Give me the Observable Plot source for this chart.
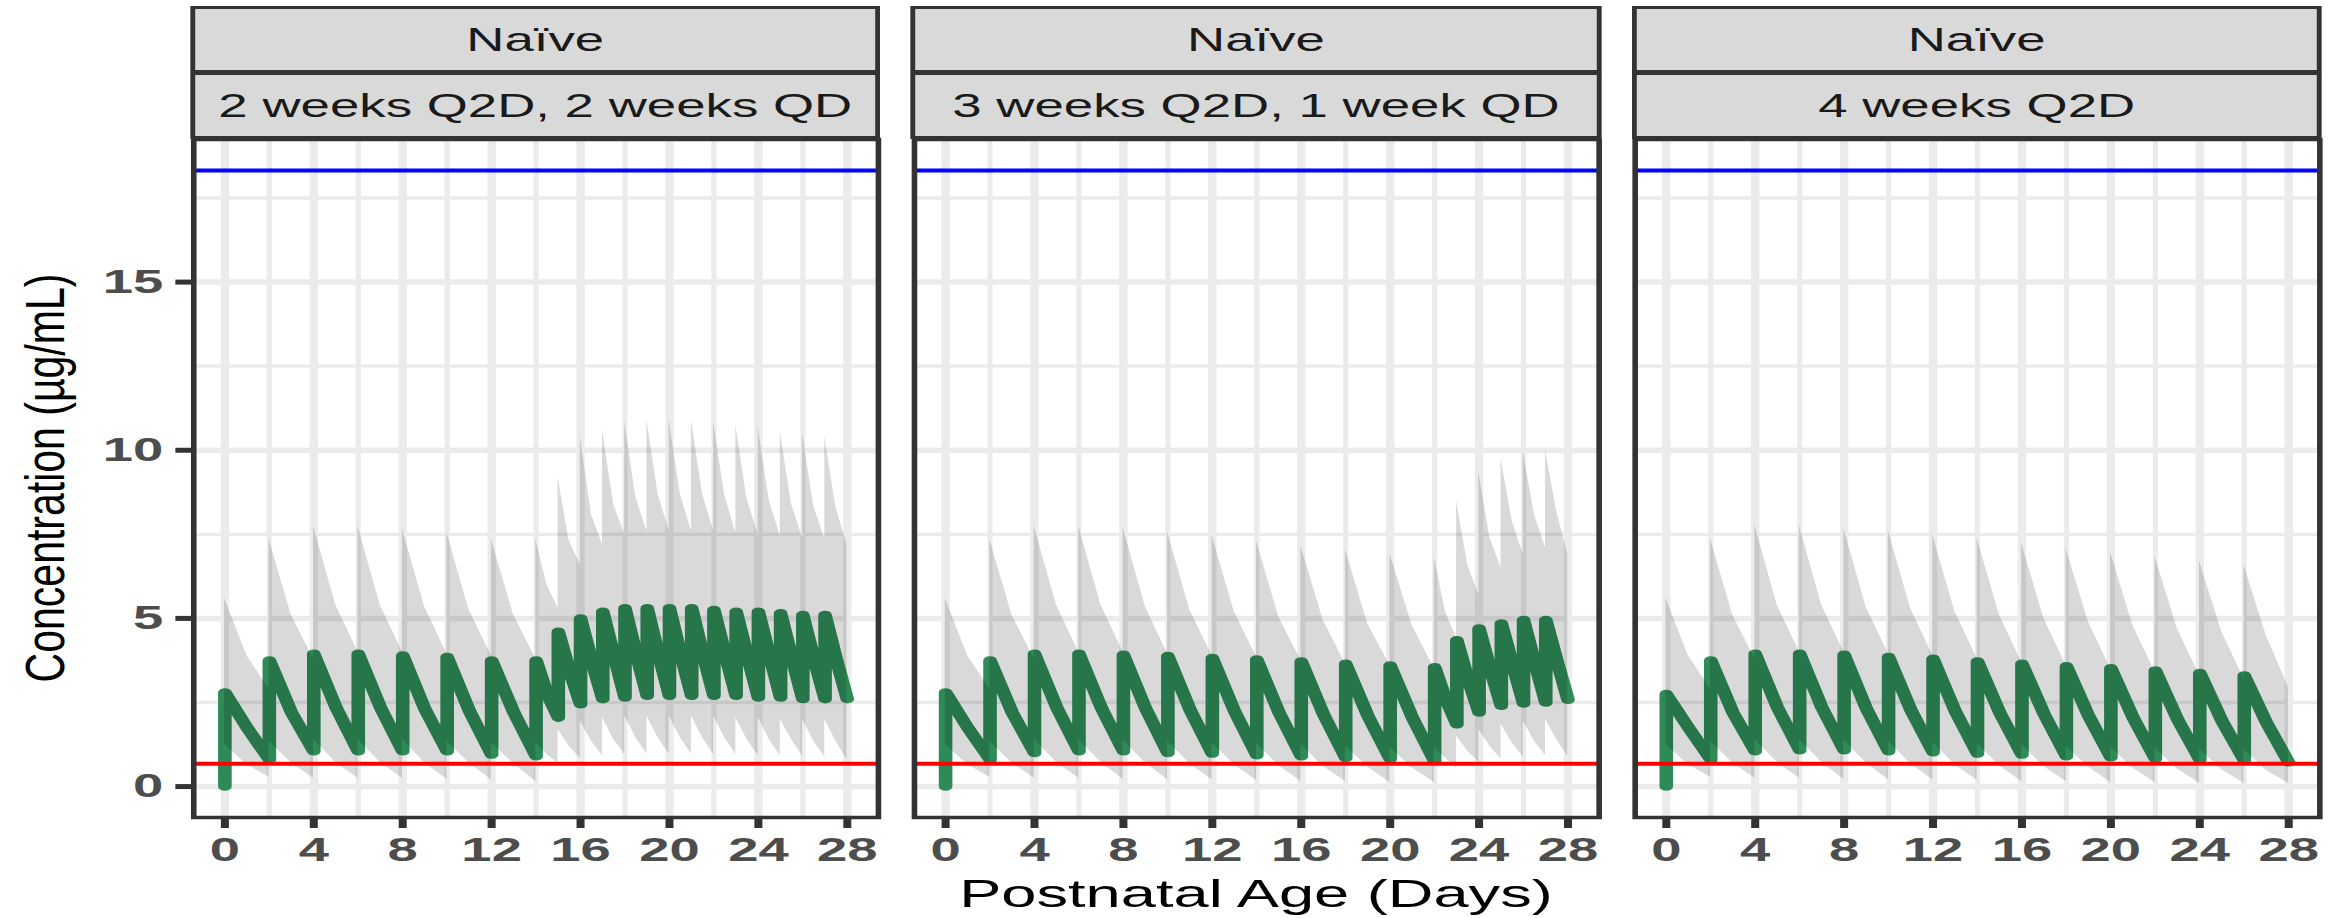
<!DOCTYPE html>
<html>
<head>
<meta charset="utf-8">
<script src="https://cdn.jsdelivr.net/npm/d3@7"></script>
<script src="https://cdn.jsdelivr.net/npm/@observablehq/plot@0.6"></script>
<style>
html, body { margin: 0; padding: 0; background: #fff; }
#root { position: relative; width: 2344px; height: 918px; overflow: hidden; font-family: "Liberation Sans", Arial, sans-serif; }
#stretch { position: absolute; left: 0; top: 0; width: 1465px; height: 918px; transform: scaleX(1.6); transform-origin: 0 0; }
#stretch svg { position: absolute; left: 0; top: 0; }
.strip { position: absolute; box-sizing: border-box; background: #d9d9d9; border: 3px solid #333; border-left-width: 3.5px; border-right-width: 3.5px;
  display: flex; align-items: center; justify-content: center; font-size: 33px; color: #1a1a1a; white-space: nowrap; }
#xtitle { position: absolute; top: 874px; font-size: 39.5px; line-height: 1; color: #000; white-space: nowrap; transform: translateX(-50%); }
#ytitle { position: absolute; left: 46px; top: 478px; font-size: 41px; line-height: 1; color: #000; white-space: nowrap;
  transform: translate(-50%, -50%) rotate(-90deg) scaleY(1.35); }
</style>
</head>
<body>
<div id="root">
  <div id="stretch"></div>
  <div id="ytitle">Concentration (µg/mL)</div>
</div>
<script>
// ---------------- data ----------------
const headerRow = "Naïve";
const panels = ["2 weeks Q2D, 2 weeks QD", "3 weeks Q2D, 1 week QD", "4 weeks Q2D"];
const xTitle = "Postnatal Age (Days)";
const yTitle = "Concentration (µg/mL)";
const xMajor = [0, 4, 8, 12, 16, 20, 24, 28];
const xMinor = [2, 6, 10, 14, 18, 22, 26];
const yMajor = [0, 5, 10, 15];
const yMinor = [2.5, 7.5, 12.5, 17.5];
const upperRef = 18.32;   // blue line
const lowerRef = 0.68;    // red line
const endDay = 28;

// Panel A: 2 weeks Q2D, 2 weeks QD
const doseA      = [0, 2, 4, 6, 8, 10, 12, 14, 15, 16, 17, 18, 19, 20, 21, 22, 23, 24, 25, 26, 27];
const medPeakA   = [2.8, 3.75, 3.95, 3.95, 3.9, 3.85, 3.75, 3.75, 4.6, 5.0, 5.2, 5.3, 5.3, 5.3, 5.3, 5.25, 5.2, 5.2, 5.15, 5.1, 5.1];
const medMidA    = [1.75, 2.2, 2.35, 2.35, 2.3, 2.25, 2.2, 2.75, 3.45, 3.75, 3.9, 3.95, 3.95, 3.95, 3.95, 3.95, 3.9, 3.9, 3.85, 3.8, 3.8];
const medTroughA = [0.8, 1.05, 1.05, 1.05, 1.05, 0.95, 0.9, 2.05, 2.45, 2.6, 2.65, 2.7, 2.7, 2.7, 2.7, 2.7, 2.65, 2.65, 2.6, 2.6, 2.6];
const hiPeakA    = [5.6, 7.35, 7.75, 7.75, 7.65, 7.55, 7.35, 7.35, 9.2, 10.4, 10.6, 10.85, 10.9, 10.9, 10.9, 10.85, 10.75, 10.7, 10.55, 10.5, 10.4];
const hiMidA     = [3.9, 5.1, 5.4, 5.4, 5.35, 5.25, 5.1, 6.0, 7.3, 8.1, 8.4, 8.6, 8.7, 8.7, 8.7, 8.65, 8.55, 8.5, 8.4, 8.35, 8.3];
const hiTroughA  = [2.9, 3.8, 4.0, 4.0, 3.95, 3.9, 3.8, 5.3, 6.6, 7.2, 7.5, 7.6, 7.6, 7.6, 7.6, 7.55, 7.5, 7.45, 7.4, 7.35, 7.2];
const loPeakA    = [1.25, 1.35, 1.4, 1.4, 1.4, 1.35, 1.3, 1.3, 1.7, 1.95, 2.05, 2.1, 2.1, 2.1, 2.1, 2.1, 2.05, 2.05, 2.0, 2.0, 2.0];
const loMidA     = [0.65, 0.7, 0.72, 0.72, 0.7, 0.7, 0.68, 0.95, 1.2, 1.35, 1.4, 1.45, 1.45, 1.45, 1.45, 1.45, 1.4, 1.4, 1.4, 1.35, 1.35];
const loTroughA  = [0.28, 0.25, 0.25, 0.25, 0.22, 0.2, 0.15, 0.7, 0.85, 0.92, 0.95, 0.97, 0.97, 0.97, 0.95, 0.95, 0.93, 0.92, 0.9, 0.88, 0.8];

// Panel B: 3 weeks Q2D, 1 week QD
const doseB      = [0, 2, 4, 6, 8, 10, 12, 14, 16, 18, 20, 22, 23, 24, 25, 26, 27];
const medPeakB   = [2.8, 3.75, 3.95, 3.95, 3.92, 3.88, 3.82, 3.78, 3.72, 3.65, 3.6, 3.55, 4.35, 4.7, 4.85, 4.95, 4.95];
const medMidB    = [1.75, 2.2, 2.35, 2.35, 2.32, 2.28, 2.24, 2.2, 2.15, 2.1, 2.05, 2.6, 3.2, 3.5, 3.65, 3.7, 3.75];
const medTroughB = [0.8, 1.0, 1.05, 1.05, 1.0, 0.98, 0.93, 0.9, 0.85, 0.82, 0.75, 1.85, 2.2, 2.4, 2.47, 2.5, 2.58];
const hiPeakB    = [5.6, 7.35, 7.75, 7.75, 7.7, 7.57, 7.47, 7.3, 7.15, 7.05, 6.93, 6.8, 8.5, 9.35, 9.75, 9.95, 10.0];
const hiMidB     = [3.9, 5.1, 5.4, 5.4, 5.35, 5.25, 5.2, 5.05, 4.95, 4.85, 4.8, 5.2, 6.6, 7.4, 7.9, 8.1, 8.2];
const hiTroughB  = [2.9, 3.8, 4.0, 4.0, 3.95, 3.9, 3.85, 3.75, 3.65, 3.6, 3.5, 4.4, 5.7, 6.5, 6.9, 7.1, 6.9];
const loPeakB    = [1.25, 1.35, 1.4, 1.4, 1.38, 1.35, 1.3, 1.28, 1.25, 1.2, 1.18, 1.15, 1.5, 1.7, 1.85, 1.95, 2.0];
const loMidB     = [0.65, 0.7, 0.72, 0.72, 0.7, 0.68, 0.65, 0.62, 0.6, 0.58, 0.55, 0.85, 1.05, 1.2, 1.3, 1.35, 1.4];
const loTroughB  = [0.28, 0.25, 0.25, 0.22, 0.2, 0.2, 0.18, 0.15, 0.15, 0.12, 0.12, 0.55, 0.72, 0.82, 0.88, 0.92, 0.9];

// Panel C: 4 weeks Q2D
const doseC      = [0, 2, 4, 6, 8, 10, 12, 14, 16, 18, 20, 22, 24, 26];
const medPeakC   = [2.75, 3.75, 3.95, 3.95, 3.92, 3.85, 3.8, 3.72, 3.65, 3.58, 3.52, 3.45, 3.38, 3.3];
const medMidC    = [1.75, 2.2, 2.35, 2.35, 2.32, 2.28, 2.24, 2.2, 2.15, 2.1, 2.05, 2.0, 1.95, 1.9];
const medTroughC = [0.8, 1.05, 1.08, 1.08, 1.05, 1.02, 0.98, 0.95, 0.9, 0.87, 0.83, 0.8, 0.78, 0.72];
const hiPeakC    = [5.6, 7.37, 7.77, 7.77, 7.67, 7.62, 7.47, 7.37, 7.22, 7.07, 6.97, 6.83, 6.7, 6.58];
const hiMidC     = [3.9, 5.1, 5.4, 5.4, 5.35, 5.3, 5.2, 5.1, 5.0, 4.9, 4.8, 4.7, 4.6, 4.5];
const hiTroughC  = [2.9, 3.8, 4.0, 4.0, 3.95, 3.9, 3.8, 3.7, 3.6, 3.5, 3.4, 3.3, 3.2, 2.95];
const loPeakC    = [1.25, 1.35, 1.4, 1.4, 1.38, 1.35, 1.3, 1.28, 1.25, 1.2, 1.18, 1.15, 1.12, 1.1];
const loMidC     = [0.65, 0.7, 0.72, 0.72, 0.7, 0.68, 0.65, 0.62, 0.6, 0.58, 0.55, 0.52, 0.5, 0.48];
const loTroughC  = [0.28, 0.25, 0.25, 0.22, 0.2, 0.2, 0.18, 0.15, 0.15, 0.12, 0.12, 0.1, 0.1, 0.1];

// ---------------- build tables ----------------
const lineRows = [];
const ribbonRows = [];
function addPanel(panel, dose, mP, mM, mT, hP, hM, hT, lP, lM, lT) {
  lineRows.push({panel, t: 0, v: 0});
  dose.forEach((t0, i) => {
    const t1 = i + 1 < dose.length ? dose[i + 1] : endDay;
    const tm = (t0 + t1) / 2;
    lineRows.push({panel, t: t0, v: mP[i]}, {panel, t: tm, v: mM[i]}, {panel, t: t1, v: mT[i]});
    ribbonRows.push({panel, t: t0, lo: lP[i], hi: hP[i]}, {panel, t: tm, lo: lM[i], hi: hM[i]}, {panel, t: t1, lo: lT[i], hi: hT[i]});
  });
}
addPanel(panels[0], doseA, medPeakA, medMidA, medTroughA, hiPeakA, hiMidA, hiTroughA, loPeakA, loMidA, loTroughA);
addPanel(panels[1], doseB, medPeakB, medMidB, medTroughB, hiPeakB, hiMidB, hiTroughB, loPeakB, loMidB, loTroughB);
addPanel(panels[2], doseC, medPeakC, medMidC, medTroughC, hiPeakC, hiMidC, hiTroughC, loPeakC, loMidC, loTroughC);

// ---------------- chart ----------------
const W = 1465, H = 918;
const grid = "#ebebeb";
const chart = Plot.plot({
  width: W, height: H,
  marginTop: 139, marginBottom: 101, marginLeft: 120.6, marginRight: W - 1449.4,
  style: {fontFamily: "'Liberation Sans', Arial, sans-serif", fontSize: "32px", background: "white", overflow: "visible"},
  fx: {domain: panels, axis: null, paddingInner: 0.05, paddingOuter: 0, round: false},
  x: {domain: [-1.4, 29.4]},
  y: {domain: [-0.92, 19.24]},
  marks: [
    Plot.gridY(yMinor, {stroke: grid, strokeOpacity: 1, strokeWidth: 3.3}),
    Plot.gridY(yMajor, {stroke: grid, strokeOpacity: 1, strokeWidth: 5.5}),
    Plot.gridX(xMinor, {stroke: grid, strokeOpacity: 1, strokeWidth: 3.2}),
    Plot.gridX(xMajor, {stroke: grid, strokeOpacity: 1, strokeWidth: 5.2}),
    Plot.line(lineRows, {x: "t", y: "v", fx: "panel", z: "panel", stroke: "#2e8b57", strokeWidth: 8.5, strokeLinejoin: "round"}),
    Plot.areaY(ribbonRows, {x: "t", y1: "lo", y2: "hi", fx: "panel", z: "panel", fill: "black", fillOpacity: 0.15}),
    Plot.ruleY([upperRef], {stroke: "#0000ff", strokeWidth: 4}),
    Plot.ruleY([lowerRef], {stroke: "#ff0000", strokeWidth: 4}),
    Plot.frame({stroke: "#333", strokeWidth: 3.5}),
    Plot.axisX(xMajor, {facetAnchor: "bottom", tickSize: 11, tickPadding: 8, stroke: "#333", strokeWidth: 5,
      fill: "#4d4d4d", fontWeight: "bold", fontSize: 34, label: null}),
    Plot.axisY(yMajor, {facetAnchor: "left", tickSize: 11, tickPadding: 8, stroke: "#333", strokeWidth: 5,
      fill: "#4d4d4d", fontWeight: "bold", fontSize: 34, label: null})
  ]
});
const stretch = document.getElementById("stretch");
stretch.appendChild(chart);

// strips and x title positioned from the fx scale
const fx = chart.scale("fx");
const bw = fx.bandwidth;
panels.forEach((p) => {
  const left = fx.apply(p);
  const s1 = document.createElement("div");
  s1.className = "strip";
  Object.assign(s1.style, {left: (left - 1.75) + "px", width: (bw + 3.5) + "px", top: "6px", height: "67px"});
  s1.textContent = headerRow;
  const s2 = document.createElement("div");
  s2.className = "strip";
  Object.assign(s2.style, {left: (left - 1.75) + "px", width: (bw + 3.5) + "px", top: "72px", height: "67px"});
  s2.textContent = p;
  stretch.appendChild(s1);
  stretch.appendChild(s2);
});
const xt = document.createElement("div");
xt.id = "xtitle";
xt.textContent = xTitle;
xt.style.left = (fx.apply(panels[1]) + bw / 2) + "px";
stretch.appendChild(xt);
document.getElementById("ytitle").textContent = yTitle;
</script>
</body>
</html>
